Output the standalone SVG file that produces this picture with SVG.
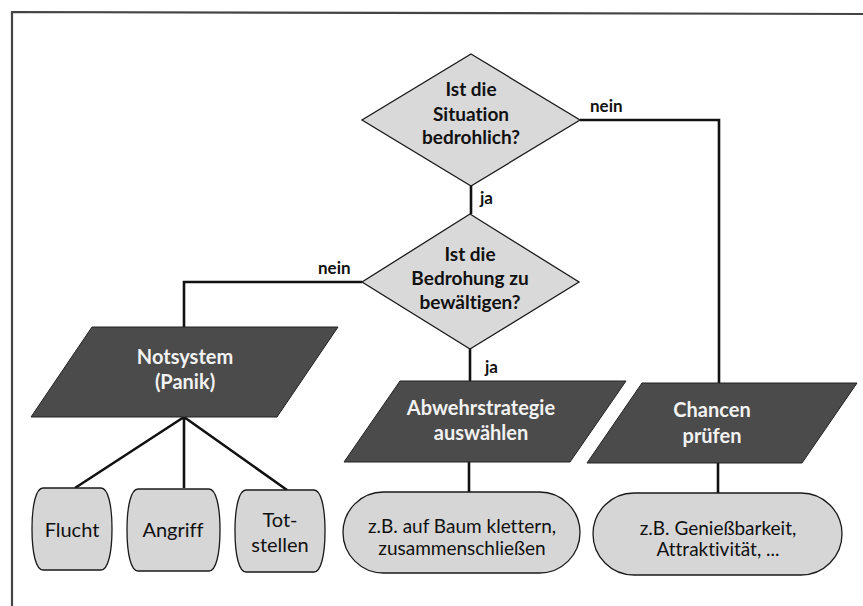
<svg xmlns="http://www.w3.org/2000/svg" width="863" height="606" viewBox="0 0 863 606">
<style>
text{font-variant-ligatures:none;font-family:Lato,"Open Sans",sans-serif}
.frame{fill:none;stroke:#444;stroke-width:2.2}
.dia{fill:#d9d9d9;stroke:#1a1a1a;stroke-width:1.3}
.para{fill:#4b4b4b;stroke:#222;stroke-width:1}
.box{fill:#d6d6d6;stroke:#1a1a1a;stroke-width:1.3}
.con{fill:none;stroke:#111;stroke-width:2.6}
.tb{font-weight:bold;font-size:19px;fill:#111;text-anchor:middle}
.tw{font-weight:bold;font-size:20px;fill:#f2f2f2;text-anchor:middle}
.tn{font-size:19px;fill:#111;text-anchor:middle}
.tc{font-size:20px;fill:#111;text-anchor:middle}
.lbl{font-weight:bold;font-size:17px;fill:#111}
</style>
<rect width="863" height="606" fill="#fff"/>
<path class="frame" d="M12,606 V12 L863,14"/>
<g id="connectors">
<path class="con" d="M471,186 V214"/>
<path class="con" d="M580,120 H719 V383"/>
<path class="con" d="M362,282 H184 V327"/>
<path class="con" d="M470,349 V381"/>
<path class="con" d="M184,417 L75,488 M184,417 V488 M184,417 L287,490"/>
<path class="con" d="M469,462 V492"/>
<path class="con" d="M718,463 V493"/>
<text class="lbl" x="480" y="204">ja</text>
<text class="lbl" x="590" y="112">nein</text>
<text class="lbl" x="318" y="274">nein</text>
<text class="lbl" x="485" y="373">ja</text>
</g>
<g id="d1">
<polygon class="dia" points="471,54 580,120 471,186 362,120"/>
<text class="tb" x="471" y="96">Ist die</text>
<text class="tb" x="471" y="121">Situation</text>
<text class="tb" x="471" y="144">bedrohlich?</text>
</g>
<g id="d2">
<polygon class="dia" points="470,214 579,282 470,349 362,282"/>
<text class="tb" x="470" y="261">Ist die</text>
<text class="tb" x="470" y="285">Bedrohung zu</text>
<text class="tb" x="470" y="309">bewältigen?</text>
</g>
<g id="notsystem">
<polygon class="para" points="92,327 338,327 277,417 31,417"/>
<text class="tw" x="185" y="364">Notsystem</text>
<text class="tw" x="185" y="389">(Panik)</text>
</g>
<g id="abwehr">
<polygon class="para" points="400,381 626,381 570,462 344,462"/>
<text class="tw" x="481" y="415">Abwehrstrategie</text>
<text class="tw" x="481" y="440">auswählen</text>
</g>
<g id="chancen">
<polygon class="para" points="642,383 857,383 802,463 587,463"/>
<text class="tw" x="712" y="417">Chancen</text>
<text class="tw" x="712" y="443">prüfen</text>
</g>
<g id="flucht">
<path class="box" d="M43,488 H101 C108,488 112,505 112,529 C112,553 108,570 101,570 H43 C36,570 32,553 32,529 C32,505 36,488 43,488 Z"/>
<text class="tc" x="72" y="537">Flucht</text>
</g>
<g id="angriff">
<path class="box" d="M138,489 H209 C216,489 220,506 220,530 C220,554 216,571 209,571 H138 C131,571 127,554 127,530 C127,506 131,489 138,489 Z"/>
<text class="tc" x="173" y="537">Angriff</text>
</g>
<g id="totstellen">
<path class="box" d="M246,490 H314 C321,490 325,507 325,531 C325,555 321,572 314,572 H246 C239,572 235,555 235,531 C235,507 239,490 246,490 Z"/>
<text class="tc" x="280" y="527">Tot-</text>
<text class="tc" x="280" y="552">stellen</text>
</g>
<g id="beispiel1">
<rect class="box" x="343" y="492" width="237" height="81" rx="40.5" ry="40.5"/>
<text class="tn" x="462" y="533">z.B. auf Baum klettern,</text>
<text class="tn" x="462" y="555">zusammenschließen</text>
</g>
<g id="beispiel2">
<rect class="box" x="593" y="493" width="249" height="82" rx="41" ry="41"/>
<text class="tn" x="718" y="535">z.B. Genießbarkeit,</text>
<text class="tn" x="718" y="556">Attraktivität, ...</text>
</g>
</svg>
